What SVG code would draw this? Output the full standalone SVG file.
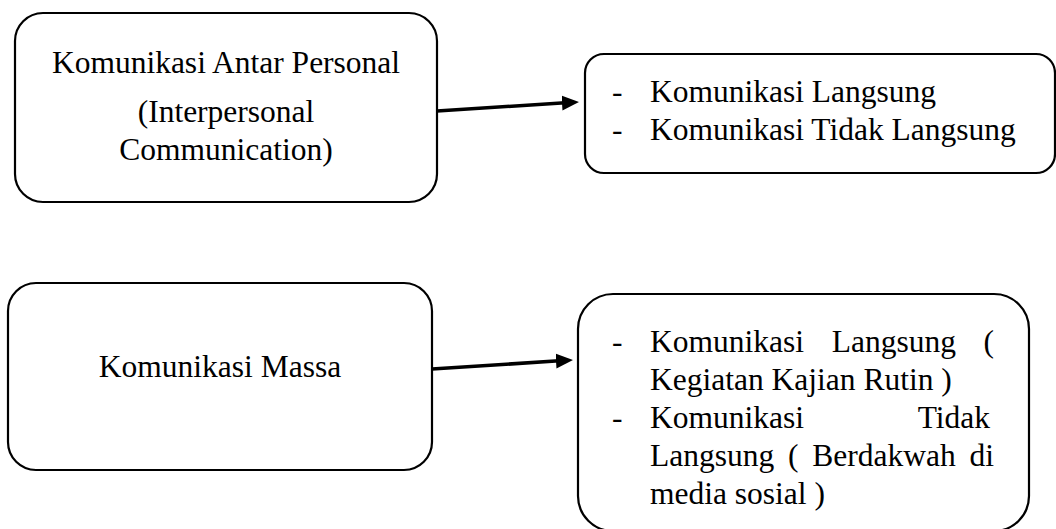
<svg xmlns="http://www.w3.org/2000/svg" width="1056" height="529" viewBox="0 0 1056 529">
<style>
.box{fill:#fff;stroke:#000;stroke-width:2.2}
.t{font-family:"Liberation Serif","Times New Roman",serif;font-size:31.5px;fill:#000}
.c{text-anchor:middle}
.e{text-anchor:end}
.conn{stroke:#000;stroke-width:3.5;fill:none}
</style>
<defs>
<marker id="arr" markerUnits="userSpaceOnUse" markerWidth="17" markerHeight="16" refX="7" refY="8" orient="auto" viewBox="0 0 17 16">
<path d="M0,0.5 L17,8 L0,15.5 z" fill="#000"/>
</marker>
</defs>
<rect width="1056" height="529" fill="#fff"/>
<g id="connectors">
<line class="conn" x1="437" y1="111" x2="569" y2="102.6" marker-end="url(#arr)"/>
<line class="conn" x1="432" y1="369" x2="563" y2="360.6" marker-end="url(#arr)"/>
</g>
<g id="node-antar-personal">
<rect class="box" x="15" y="13" width="422" height="189" rx="28" ry="28"/>
<text class="t c" x="226" y="73">Komunikasi Antar Personal</text>
<text class="t c" x="226" y="122">(Interpersonal</text>
<text class="t c" x="226" y="160">Communication)</text>
</g>
<g id="node-antar-list">
<rect class="box" x="585" y="54" width="470" height="119" rx="19" ry="19"/>
<text class="t" x="612" y="102">-</text>
<text class="t" x="650" y="102">Komunikasi Langsung</text>
<text class="t" x="612" y="140">-</text>
<text class="t" x="650" y="140">Komunikasi Tidak Langsung</text>
</g>
<g id="node-massa">
<rect class="box" x="8" y="283" width="424" height="187" rx="28" ry="28"/>
<text class="t c" x="220" y="377">Komunikasi Massa</text>
</g>
<g id="node-massa-list">
<rect class="box" x="578" y="294" width="451" height="237" rx="35" ry="35"/>
<text class="t" x="612" y="352">-</text>
<text class="t" x="650" y="352">Komunikasi</text>
<text class="t" x="831.7" y="352">Langsung</text>
<text class="t e" x="994" y="352">(</text>
<text class="t" x="650" y="390">Kegiatan Kajian Rutin )</text>
<text class="t" x="612" y="428">-</text>
<text class="t" x="650" y="428">Komunikasi</text>
<text class="t e" x="990" y="428">Tidak</text>
<text class="t" x="650" y="466">Langsung</text>
<text class="t" x="788" y="466">(</text>
<text class="t" x="812.2" y="466">Berdakwah</text>
<text class="t e" x="994" y="466">di</text>
<text class="t" x="650" y="504">media sosial )</text>
</g>
</svg>
